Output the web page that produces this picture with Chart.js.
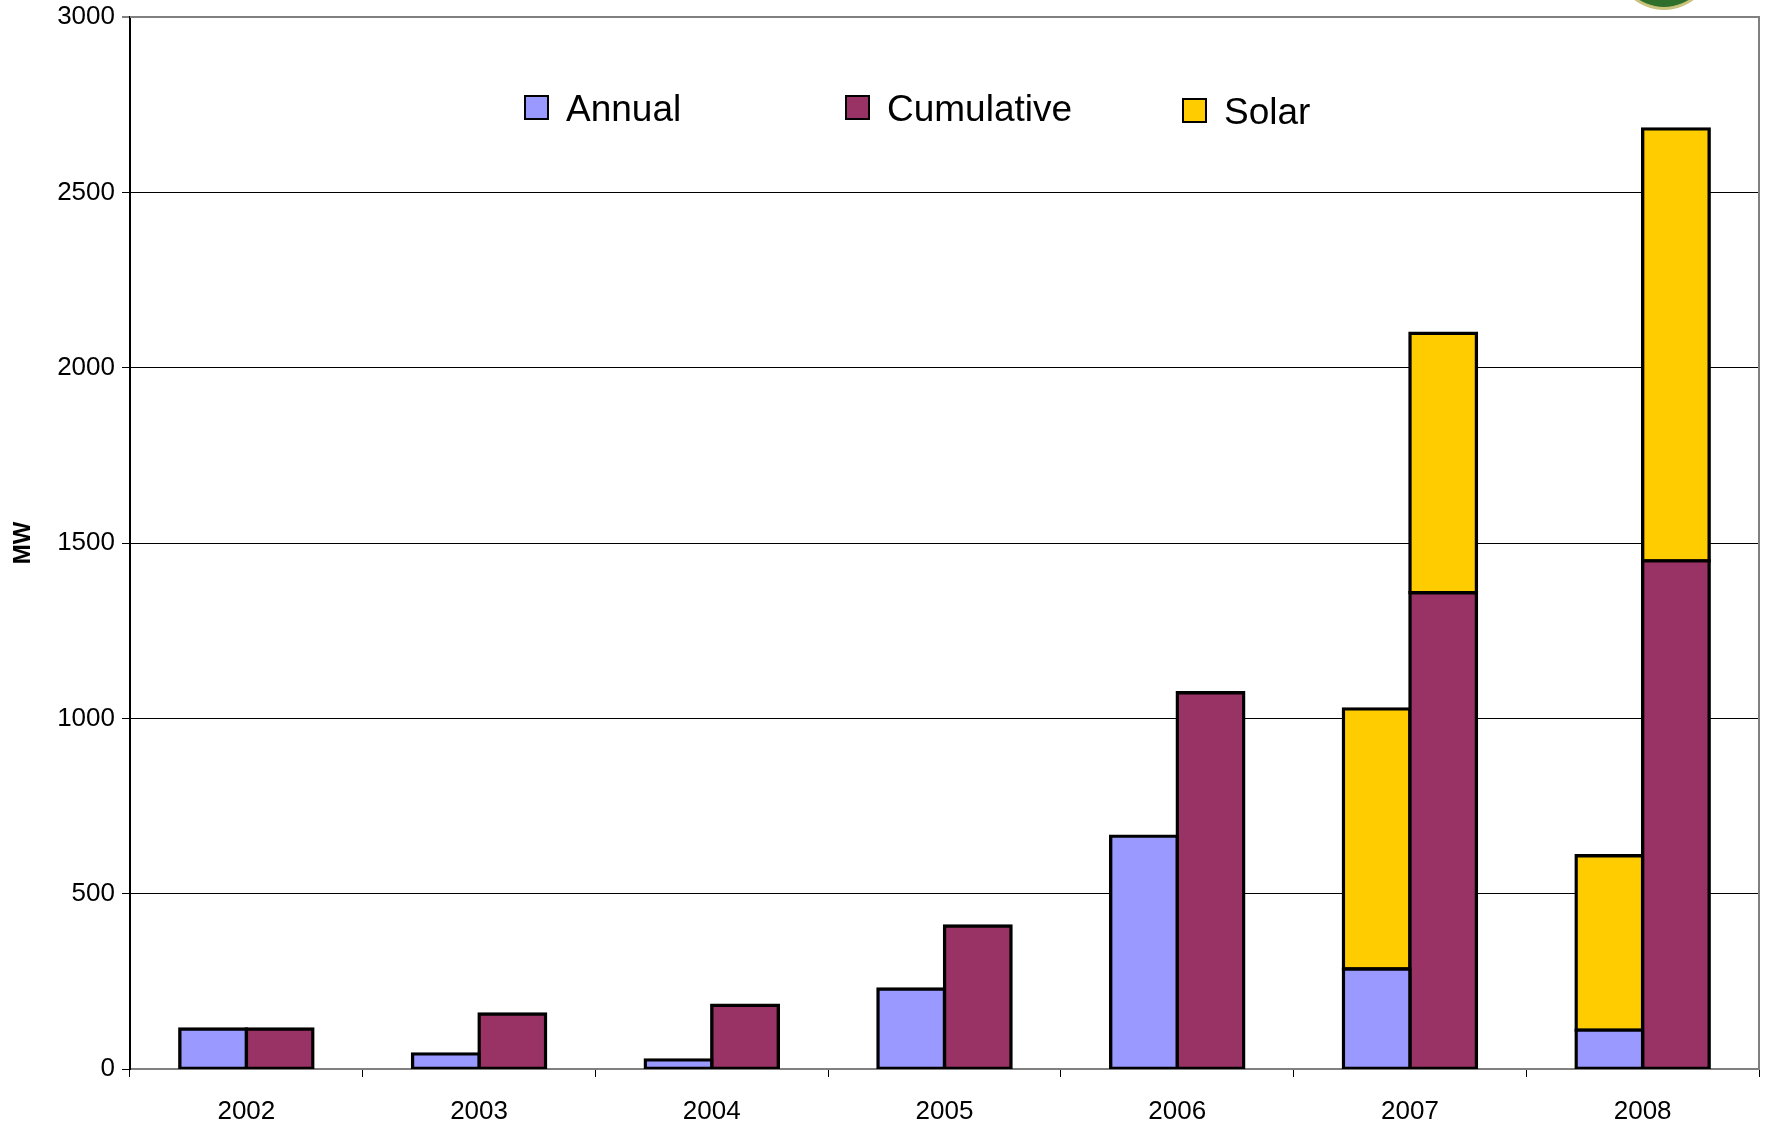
<!DOCTYPE html>
<html>
<head>
<meta charset="utf-8">
<script src="https://cdn.jsdelivr.net/npm/chart.js@4.4.1/dist/chart.umd.min.js"></script>
<style>
body{margin:0;background:#fff;}
#wrap{position:relative;width:1766px;height:1124px;overflow:hidden;}
#grafico{position:absolute;left:0;top:0;}
.leg{position:absolute;display:flex;align-items:center;font-family:'Liberation Sans',Arial,sans-serif;font-size:37px;color:#000;white-space:nowrap;}
.leg i{display:inline-block;width:21px;height:21px;border:2px solid #000;margin-right:17px;}
.leg span{position:relative;top:2px;}
#selo{position:absolute;left:1614px;top:-92px;width:94px;height:96px;border-radius:50%;background:#2f6f2c;border:3px solid #c8c27a;}
</style>
</head>
<body>
<div id="wrap">
  <canvas id="grafico" width="1766" height="1124"></canvas>
  <div id="selo"></div>
</div>
<script>
// valores (MW)
const anos=['2002','2003','2004','2005','2006','2007','2008'];
const anual=[114,43,26,228,664,285,111];
const acumulado=[114,157,182,408,1073,1358,1449];
const solarAnual=[null,null,null,null,null,742,497];
const solarAcum=[null,null,null,null,null,740,1232];
const yMax=3000, yPasso=500;

const COR={anual:'#9999FF',acum:'#993366',solar:'#FFCC00'};
// legenda: nome, cor, posição
const LEG=[
  {t:'Annual',c:COR.anual,x:524,y:92},
  {t:'Cumulative',c:COR.acum,x:845,y:92},
  {t:'Solar',c:COR.solar,x:1182,y:95},
];

const bordaPlot={
  id:'bordaPlot',
  afterDraw(ch){
    const a=ch.chartArea,c=ch.ctx;
    c.save();c.strokeStyle='#808080';c.lineWidth=2;
    c.beginPath();c.moveTo(a.left,a.top);c.lineTo(a.right,a.top);c.lineTo(a.right,a.bottom);c.stroke();
    c.restore();
  }
};

// borda centrada na aresta (inflateAmount = metade da borda) p/ não dobrar entre barras vizinhas
const ds=(label,data,cor,stack)=>({label,data,stack,backgroundColor:cor,borderColor:'#000',borderWidth:3.4,borderSkipped:false,
  inflateAmount:1.7,categoryPercentage:0.572,barPercentage:1});

const fonte=(s,w)=>({family:"'Liberation Sans',Arial",size:s,weight:w||'normal'});

new Chart(document.getElementById('grafico'),{
  type:'bar',
  data:{labels:anos,datasets:[
    ds('Annual',anual,COR.anual,'a'),
    ds('Cumulative',acumulado,COR.acum,'c'),
    ds('Solar',solarAnual,COR.solar,'a'),
    ds('Solar',solarAcum,COR.solar,'c'),
  ]},
  options:{
    responsive:false,animation:false,
    layout:{padding:{left:0,top:17,right:7,bottom:0}},
    plugins:{legend:{display:false},tooltip:{enabled:false}},
    scales:{
      x:{stacked:true,
        afterFit:s=>{s.height=55;s.paddingLeft=0;s.paddingRight=0;},
        border:{color:'#808080',width:2},
        grid:{offset:true,drawOnChartArea:false,drawTicks:true,tickLength:8,color:'#000',lineWidth:1},
        ticks:{color:'#000',padding:19,font:fonte(26)}},
      y:{stacked:true,min:0,max:yMax,
        afterFit:s=>{s.width=130;s.paddingTop=0;s.paddingBottom=0;},
        border:{color:'#000',width:2},
        grid:{color:c=>c.tick&&c.tick.value===yMax?'#808080':'#000',lineWidth:c=>c.tick&&c.tick.value===yMax?2:1,tickLength:8},
        ticks:{stepSize:yPasso,color:'#000',padding:7,font:fonte(26),callback:v=>String(v)},
        title:{display:true,text:'MW',color:'#000',padding:{top:9,bottom:0},font:fonte(24,'bold')}}
    }
  },
  plugins:[bordaPlot]
});

const w=document.getElementById('wrap');
LEG.forEach(l=>{
  const d=document.createElement('div');
  d.className='leg';d.style.left=l.x+'px';d.style.top=(l.y-6)+'px';
  d.innerHTML=`<i style="background:${l.c}"></i><span>${l.t}</span>`;
  w.appendChild(d);
});
</script>
</body>
</html>
